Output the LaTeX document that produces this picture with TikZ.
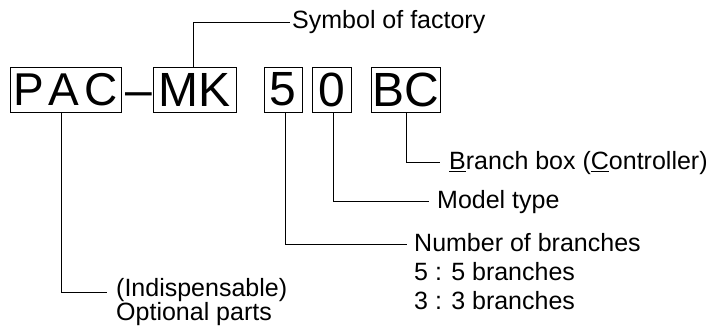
\documentclass[tikz,border=0pt]{standalone}
\usepackage{fontspec}
\setmainfont{Liberation Sans}
\begin{document}
\begin{tikzpicture}[x=1pt,y=-1pt,
  bx/.style={draw, line width=0.9pt, inner sep=0pt, minimum height=45pt, font=\fontsize{48}{52}\selectfont},
  big/.style={inner sep=0pt, font=\fontsize{48}{52}\selectfont},
  lbl/.style={inner sep=0pt, anchor=base west, font=\fontsize{25}{29}\selectfont},
  conn/.style={line width=0.9pt}]
\useasboundingbox (0,0) rectangle (707,326);
% boxes
\node[bx, minimum width=111pt, font=\fontsize{46}{50}\selectfont] (pac) at (65.5,89.5) {P\hspace{.1em}A\hspace{.1em}C};
\node[big, anchor=base] (dash) at (139,106.5) {–};
\node[bx, minimum width=83pt] (mk) at (194.5,89.5) {MK};
\node[bx, minimum width=38pt] (five) at (283,89.5) {5};
\node[bx, minimum width=39pt] (zero) at (331.5,89.5) {0};
\node[bx, minimum width=69pt] (bc) at (405.5,89.5) {BC};
% labels
\node[lbl] (sym) at (292,29) {Symbol of factory};
\node[lbl] (brb) at (449,170) {\underline{B}ranch box (\underline{C}ontroller)};
\node[lbl] (mod) at (437,208) {Model type};
\node[lbl] (num1) at (414,251) {Number of branches};
\node[lbl] (num2) at (414,280) {5 : 5 branches};
\node[lbl] (num3) at (414,309) {3 : 3 branches};
\node[lbl, anchor=north west, align=left, font=\fontsize{25}{22.5}\selectfont] (ind) at (116,278) {(Indispensable)\\Optional parts};
% connector ends
\coordinate (symEnd) at (290,22);
\coordinate (brbEnd) at (440,162.5);
\coordinate (modEnd) at (429,201);
\coordinate (numEnd) at (407,244);
\coordinate (indEnd) at (107,292);
% connectors
\draw[conn] ([xshift=-1.5pt]mk.north) |- (symEnd);
\draw[conn] ([xshift=0.5pt]bc.south) |- (brbEnd);
\draw[conn] ([xshift=1.5pt]zero.south) |- (modEnd);
\draw[conn] ([xshift=2pt]five.south) |- (numEnd);
\draw[conn] ([xshift=-4.5pt]pac.south) |- (indEnd);
\end{tikzpicture}
\end{document}
